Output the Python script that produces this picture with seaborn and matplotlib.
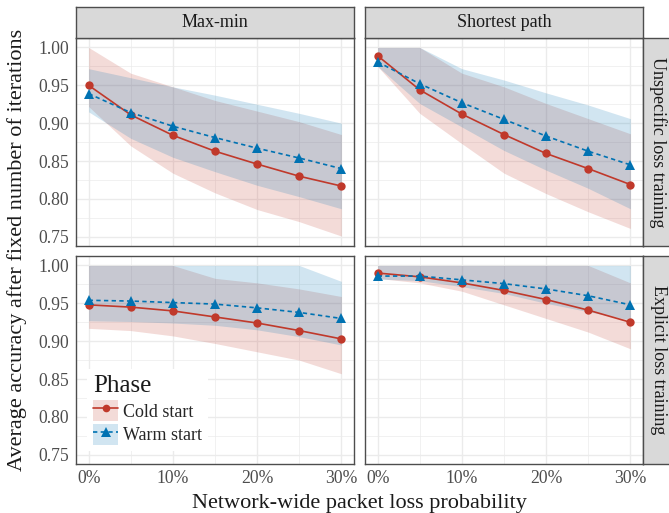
"""Accuracy after a fixed number of iterations vs. packet loss, faceted by
routing objective (columns) and training regime (rows)."""

import matplotlib
import numpy as np
import pandas as pd
import seaborn as sns

matplotlib.use("Agg")
import matplotlib.pyplot as plt
from matplotlib.lines import Line2D
from matplotlib.patches import Patch
from matplotlib.ticker import FixedLocator

# --- data -----------------------------------------------------------------
LOSS = [0, 5, 10, 15, 20, 25, 30]
PHASES = ["Cold start", "Warm start"]
COLUMNS = ["Max-min", "Shortest path"]
ROWS = ["Unspecific loss training", "Explicit loss training"]

# Max-min, unspecific loss training
mm_unspec_cold = [0.950, 0.911, 0.884, 0.863, 0.846, 0.830, 0.817]
mm_unspec_cold_lo = [0.922, 0.870, 0.834, 0.808, 0.786, 0.770, 0.751]
mm_unspec_cold_hi = [1.000, 0.966, 0.948, 0.930, 0.916, 0.902, 0.885]
mm_unspec_warm = [0.939, 0.914, 0.896, 0.881, 0.867, 0.854, 0.840]
mm_unspec_warm_lo = [0.915, 0.880, 0.855, 0.836, 0.818, 0.803, 0.787]
mm_unspec_warm_hi = [0.972, 0.960, 0.948, 0.937, 0.925, 0.913, 0.900]

# Shortest path, unspecific loss training
sp_unspec_cold = [0.989, 0.944, 0.912, 0.885, 0.860, 0.840, 0.819]
sp_unspec_cold_lo = [0.975, 0.913, 0.873, 0.834, 0.807, 0.783, 0.761]
sp_unspec_cold_hi = [1.000, 1.000, 0.966, 0.948, 0.926, 0.906, 0.886]
sp_unspec_warm = [0.981, 0.952, 0.927, 0.905, 0.883, 0.863, 0.845]
sp_unspec_warm_lo = [0.975, 0.926, 0.895, 0.864, 0.838, 0.814, 0.787]
sp_unspec_warm_hi = [1.000, 1.000, 0.972, 0.957, 0.940, 0.924, 0.906]

# Max-min, explicit loss training
mm_expl_cold = [0.948, 0.945, 0.940, 0.932, 0.924, 0.914, 0.903]
mm_expl_cold_lo = [0.917, 0.914, 0.907, 0.897, 0.886, 0.875, 0.857]
mm_expl_cold_hi = [1.000, 1.000, 1.000, 0.983, 0.977, 0.969, 0.959]
mm_expl_warm = [0.954, 0.953, 0.951, 0.949, 0.944, 0.938, 0.930]
mm_expl_warm_lo = [0.927, 0.926, 0.924, 0.921, 0.915, 0.906, 0.895]
mm_expl_warm_hi = [1.000, 1.000, 1.000, 1.000, 1.000, 1.000, 0.979]

# Shortest path, explicit loss training
sp_expl_cold = [0.990, 0.985, 0.977, 0.967, 0.955, 0.941, 0.925]
sp_expl_cold_lo = [0.983, 0.977, 0.966, 0.948, 0.930, 0.912, 0.890]
sp_expl_cold_hi = [1.000, 1.000, 1.000, 1.000, 1.000, 1.000, 0.977]
sp_expl_warm = [0.986, 0.986, 0.981, 0.976, 0.969, 0.960, 0.948]
sp_expl_warm_lo = [0.982, 0.980, 0.972, 0.963, 0.950, 0.939, 0.928]
sp_expl_warm_hi = [1.000, 1.000, 1.000, 1.000, 1.000, 1.000, 1.000]

PANELS = {
    (0, 0): (mm_unspec_cold, mm_unspec_cold_lo, mm_unspec_cold_hi,
             mm_unspec_warm, mm_unspec_warm_lo, mm_unspec_warm_hi),
    (0, 1): (sp_unspec_cold, sp_unspec_cold_lo, sp_unspec_cold_hi,
             sp_unspec_warm, sp_unspec_warm_lo, sp_unspec_warm_hi),
    (1, 0): (mm_expl_cold, mm_expl_cold_lo, mm_expl_cold_hi,
             mm_expl_warm, mm_expl_warm_lo, mm_expl_warm_hi),
    (1, 1): (sp_expl_cold, sp_expl_cold_lo, sp_expl_cold_hi,
             sp_expl_warm, sp_expl_warm_lo, sp_expl_warm_hi),
}

COLORS = {"Cold start": "#C0392B", "Warm start": "#0072B2"}
MARKERS = {"Cold start": "o", "Warm start": "^"}
MARKER_SIZES = {"o": 6.0, "^": 7.0}
DASHES = {"Cold start": "", "Warm start": (2.6, 2.0)}

W, H = 669, 513
FONT = ["Liberation Serif", "DejaVu Serif"]
GRID = "#EBEBEB"
BORDER = "#4D4D4D"
TICK_TEXT = "#4D4D4D"


def px_rect(left, top, width, height):
    return [left / W, 1 - (top + height) / H, width / W, height / H]


def build_frame(panel):
    cold, cold_lo, cold_hi, warm, warm_lo, warm_hi = panel
    parts = []
    for phase, mean, lo, hi in [
        ("Cold start", cold, cold_lo, cold_hi),
        ("Warm start", warm, warm_lo, warm_hi),
    ]:
        parts.append(pd.DataFrame({"loss": LOSS, "acc": mean, "lo": lo, "hi": hi, "phase": phase}))
    return pd.concat(parts, ignore_index=True)


def style_panel(ax, show_x, show_y):
    ax.set_xlim(-1.5, 31.5)
    ax.set_ylim(0.7385, 1.0125)
    ax.set_facecolor("white")
    ax.xaxis.set_major_locator(FixedLocator([0, 10, 20, 30]))
    ax.xaxis.set_minor_locator(FixedLocator([5, 15, 25]))
    ax.yaxis.set_major_locator(FixedLocator([0.75, 0.80, 0.85, 0.90, 0.95, 1.00]))
    ax.yaxis.set_minor_locator(FixedLocator([0.775, 0.825, 0.875, 0.925, 0.975]))
    ax.grid(which="major", color=GRID, lw=1.0)
    ax.grid(which="minor", color=GRID, lw=0.5)
    ax.set_axisbelow(True)
    for spine in ax.spines.values():
        spine.set_color(BORDER)
        spine.set_linewidth(1.0)
    ax.tick_params(which="major", length=3, color=BORDER, width=0.8,
                   labelsize=12.7, labelcolor=TICK_TEXT, pad=2)
    ax.tick_params(which="minor", length=0)
    ax.set_xlabel("")
    ax.set_ylabel("")
    if show_x:
        ax.set_xticklabels(["0%", "10%", "20%", "30%"])
    else:
        ax.tick_params(axis="x", labelbottom=False)
    if show_y:
        ax.set_yticklabels(["0.75", "0.80", "0.85", "0.90", "0.95", "1.00"])
    else:
        ax.tick_params(axis="y", labelleft=False)


def add_strip(fig, rect, label, rotation):
    sax = fig.add_axes(rect)
    sax.set_facecolor("#D9D9D9")
    sax.set_xticks([])
    sax.set_yticks([])
    for spine in sax.spines.values():
        spine.set_color(BORDER)
        spine.set_linewidth(1.0)
    sax.text(0.5, 0.5, label, rotation=rotation, ha="center", va="center",
             fontsize=13, color="#1A1A1A", family=FONT, transform=sax.transAxes)


def main():
    sns.set_theme(style="white")
    plt.rcParams["font.family"] = FONT

    fig = plt.figure(figsize=(W / 100, H / 100), dpi=100)
    lefts = [76, 365]
    tops = [38, 256]
    pw, ph = 278, 207.5

    for (r, c), panel in PANELS.items():
        ax = fig.add_axes(px_rect(lefts[c], tops[r], pw, ph))
        frame = build_frame(panel)
        for phase in PHASES:
            sub = frame[frame["phase"] == phase]
            ax.fill_between(sub["loss"], sub["lo"], sub["hi"],
                            color=COLORS[phase], alpha=0.18, lw=0)
        sns.lineplot(data=frame, x="loss", y="acc", hue="phase", style="phase",
                     palette=COLORS, markers=MARKERS, dashes=DASHES,
                     markeredgewidth=0, linewidth=1.2,
                     legend=False, ax=ax)
        for line in ax.lines:
            line.set_markersize(MARKER_SIZES.get(line.get_marker(), 6.0))
        style_panel(ax, show_x=(r == 1), show_y=(c == 0))

        if r == 1 and c == 0:
            handles = [
                (Patch(facecolor=COLORS[p], alpha=0.18, edgecolor="none"),
                 Line2D([], [], color=COLORS[p], marker=MARKERS[p],
                        markersize=MARKER_SIZES[MARKERS[p]] - 0.5,
                        markeredgewidth=0, lw=1.2,
                        dashes=DASHES[p] if DASHES[p] else (None, None),
                        linestyle="--" if DASHES[p] else "-"))
                for p in PHASES
            ]
            leg = ax.legend(handles, PHASES, title="Phase", loc="lower left",
                            bbox_to_anchor=(0.04, 0.06), frameon=True,
                            facecolor="white", edgecolor="none", framealpha=1,
                            fontsize=13, title_fontsize=18, handlelength=1.38,
                            handleheight=1.38, handletextpad=0.25, labelspacing=0.18,
                            borderpad=0.35, borderaxespad=0, fancybox=False)
            leg._legend_box.align = "left"
            leg.get_title().set_color("#1A1A1A")

    for c, label in enumerate(COLUMNS):
        add_strip(fig, px_rect(lefts[c], 7, pw, 31), label, 0)
    for r, label in enumerate(ROWS):
        add_strip(fig, px_rect(643, tops[r], 30, ph), label, -90)

    fig.text(17 / W, 1 - 250 / H, "Average accuracy after fixed number of iterations",
             rotation=90, ha="center", va="center", fontsize=16, color="#1A1A1A")
    fig.text(359 / W, 1 - 508 / H, "Network-wide packet loss probability",
             ha="center", va="baseline", fontsize=16, color="#1A1A1A")

    fig.savefig("out.png", dpi=100)
    plt.close(fig)


if __name__ == "__main__":
    main()
